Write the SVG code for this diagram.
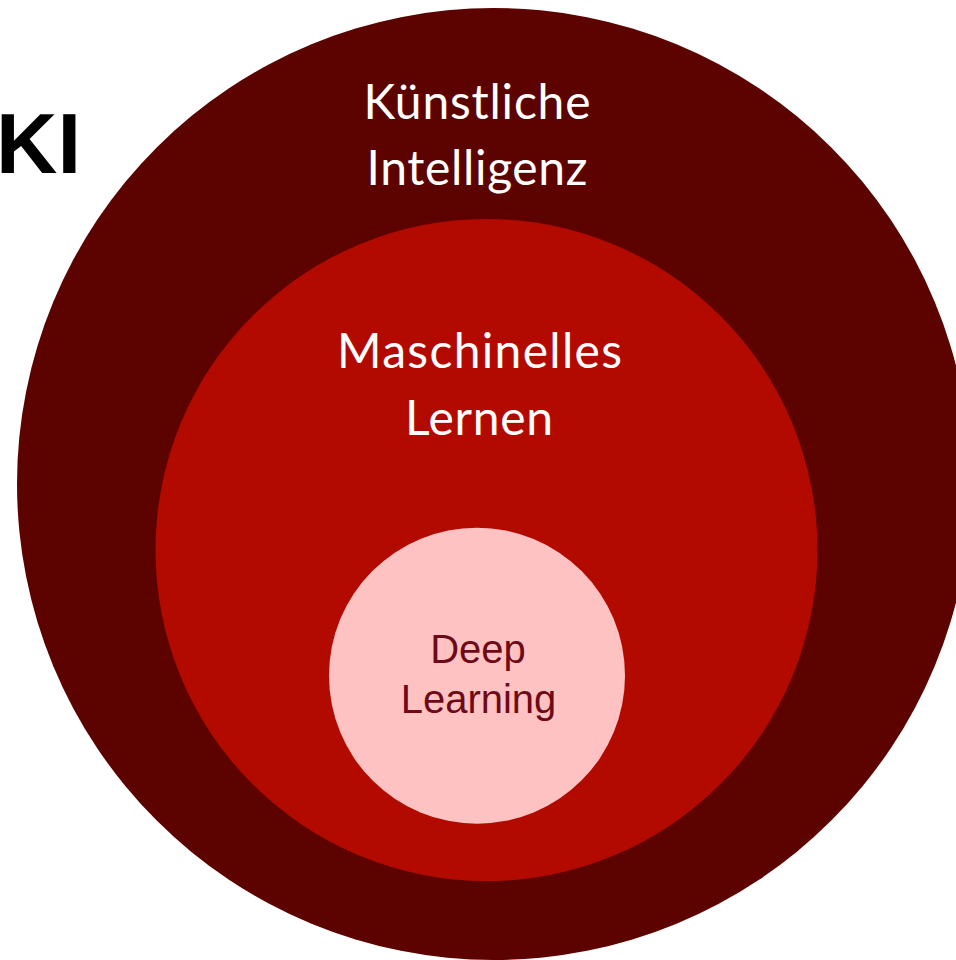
<svg xmlns="http://www.w3.org/2000/svg" width="956" height="960" viewBox="0 0 956 960">
  <style>
    .lbl { font-family: Lato, "Open Sans", "Liberation Sans", sans-serif; font-size: 48px; fill: #ffffff; text-anchor: middle; }
    .dl { font-family: "Liberation Sans", Arial, sans-serif; font-size: 40px; fill: #6e0a17; text-anchor: middle; }
    .title { font-family: "Liberation Sans", Arial, sans-serif; font-size: 85px; font-weight: bold; fill: #000000; text-anchor: end; }
  </style>

  <rect width="956" height="960" fill="#ffffff"/>

  <!-- outermost ring: artificial intelligence -->
  <g id="ki">
    <ellipse cx="494" cy="484" rx="477" ry="476" fill="#5c0300"/>
    <text class="lbl" x="477" y="119" textLength="227" lengthAdjust="spacing">Künstliche</text>
    <text class="lbl" x="477" y="185" textLength="221" lengthAdjust="spacing">Intelligenz</text>
  </g>

  <!-- middle ring: machine learning -->
  <g id="ml">
    <circle cx="486.5" cy="550" r="331" fill="#b30a00"/>
    <text class="lbl" x="479.5" y="368" textLength="285" lengthAdjust="spacing">Maschinelles</text>
    <text class="lbl" x="479" y="435" textLength="148" lengthAdjust="spacing">Lernen</text>
  </g>

  <!-- inner disc: deep learning -->
  <g id="dl">
    <circle cx="477" cy="675.7" r="148" fill="#ffc2c2"/>
    <text class="dl" x="478" y="663">Deep</text>
    <text class="dl" x="478.5" y="713">Learning</text>
  </g>

  <!-- heading -->
  <g id="heading">
    <text class="title" x="81" y="173">KI</text>
  </g>

  <g id="connectors"/>
</svg>
